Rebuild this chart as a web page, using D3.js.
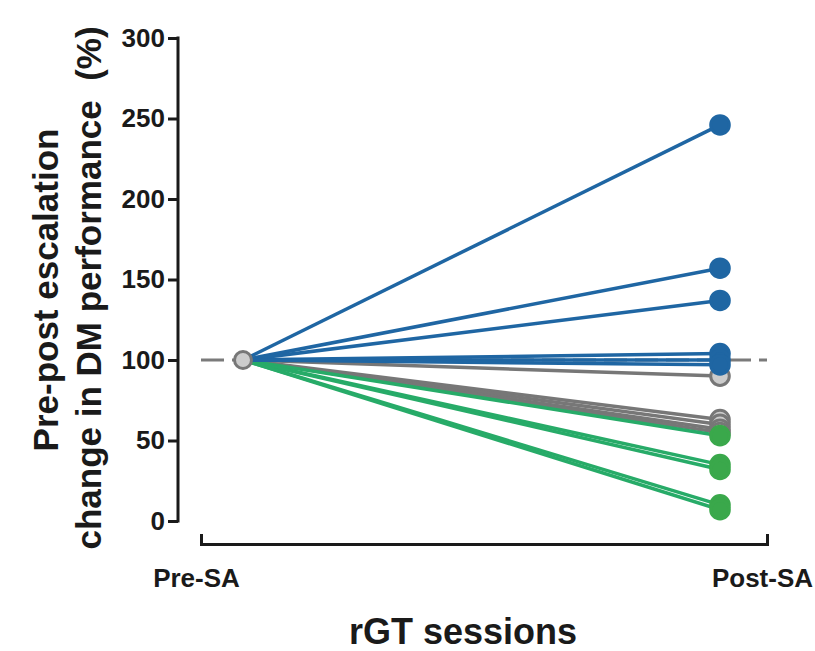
<!DOCTYPE html>
<html>
<head>
<meta charset="utf-8">
<script src="https://cdn.jsdelivr.net/npm/d3@7"></script>
<style>
  body { margin: 0; background: #fff; }
  text { font-family: "Liberation Sans", Arial, sans-serif; font-weight: bold; fill: #1a1a1a; }
</style>
</head>
<body>
<div id="chart"></div>
<script>
// sessions on the x axis
const sessions = ["Pre-SA", "Post-SA"];
// baseline at pre-SA (100 %)
const preValue = 100;
// post-SA values per group (% of pre)
const bluePost = [246, 157, 137, 104, 100, 97];
const grayPost = [90, 63, 60, 57, 55];
const greenPost = [53, 35, 32, 10, 7];
const yTicks = [0, 50, 100, 150, 200, 250, 300];

const W = 815, H = 651;

const svg = d3.select("#chart").append("svg")
  .attr("width", W)
  .attr("height", H);

// y scale
const y = d3.scaleLinear().domain([0, 300]).range([521, 38]);
// x axis bracket scale (labels sit at the ends)
const xAxisScale = d3.scaleLinear().domain([0, 1]).range([201, 767]);
// data point positions, inset inside the bracket
const x = d3.scaleLinear().domain([0, 1]).range([243, 720]);

// Y axis
const yAxis = d3.axisLeft(y)
  .tickValues(yTicks)
  .tickSize(10)
  .tickPadding(3);
const gy = svg.append("g")
  .attr("transform", "translate(178,0)")
  .call(yAxis);
gy.select(".domain").attr("stroke", "#1a1a1a").attr("stroke-width", 3)
  .attr("d", "M0," + (y(0) + 1.5) + "V" + (y(300) - 1.5));
gy.selectAll(".tick line").attr("stroke", "#1a1a1a").attr("stroke-width", 3);
gy.selectAll(".tick text")
  .style("font-size", "26px")
  .style("font-family", "Liberation Sans, Arial, sans-serif")
  .style("font-weight", "bold")
  .attr("fill", "#1a1a1a");

// X axis bracket
const xAxis = d3.axisBottom(xAxisScale)
  .tickValues([0, 1])
  .tickFormat(d => sessions[d])
  .tickSize(0)
  .tickPadding(25)
  .tickSizeOuter(-10);
const gx = svg.append("g")
  .attr("transform", "translate(0,544)")
  .call(xAxis);
gx.select(".domain").attr("stroke", "#1a1a1a").attr("stroke-width", 3);
gx.selectAll(".tick text")
  .attr("dx", "-5")
  .style("font-size", "26px")
  .style("font-family", "Liberation Sans, Arial, sans-serif")
  .style("font-weight", "bold")
  .attr("fill", "#1a1a1a");

// dashed reference line at 100 %
svg.append("line")
  .attr("x1", xAxisScale(0)).attr("x2", xAxisScale(1))
  .attr("y1", y(100)).attr("y2", y(100))
  .attr("stroke", "#7a7a7a")
  .attr("stroke-width", 3)
  .attr("stroke-dasharray", "23,8");

const groups = {
  gray: { vals: grayPost, line: "#777777", fill: "#cccccc", stroke: "#777777" },
  green: { vals: greenPost, line: "#27ab68", fill: "#3aa84b", stroke: "#3aa84b" },
  blue: { vals: bluePost, line: "#1f66a3", fill: "#1f66a3", stroke: "#1f66a3" }
};
const order = ["gray", "green", "blue"];

// lines first
order.forEach(k => {
  const g = groups[k];
  svg.append("g").selectAll("line")
    .data(g.vals)
    .enter().append("line")
    .attr("x1", x(0)).attr("y1", y(preValue))
    .attr("x2", x(1)).attr("y2", d => y(d))
    .attr("stroke", g.line)
    .attr("stroke-width", 3.5);
});

// post-SA points
order.forEach(k => {
  const g = groups[k];
  svg.append("g").selectAll("circle")
    .data(g.vals.slice().sort((a, b) => b - a))
    .enter().append("circle")
    .attr("cx", x(1))
    .attr("cy", d => y(d))
    .attr("r", 9.3)
    .attr("fill", g.fill)
    .attr("stroke", g.stroke)
    .attr("stroke-width", 3);
});

// pre-SA point
svg.append("circle")
  .attr("cx", x(0)).attr("cy", y(preValue))
  .attr("r", 8.5)
  .attr("fill", "#cccccc")
  .attr("stroke", "#777777")
  .attr("stroke-width", 3);

// axis titles
svg.append("text")
  .attr("transform", "translate(58,290) rotate(-90)")
  .attr("text-anchor", "middle")
  .style("font-size", "35px")
  .text("Pre-post escalation");
svg.append("text")
  .attr("transform", "translate(101,288) rotate(-90)")
  .attr("text-anchor", "middle")
  .attr("xml:space", "preserve")
  .style("white-space", "pre")
  .style("font-size", "35px")
  .text("change in DM performance  (%)");

svg.append("text")
  .attr("x", 463)
  .attr("y", 644)
  .attr("text-anchor", "middle")
  .style("font-size", "36px")
  .text("rGT sessions");
</script>
</body>
</html>
